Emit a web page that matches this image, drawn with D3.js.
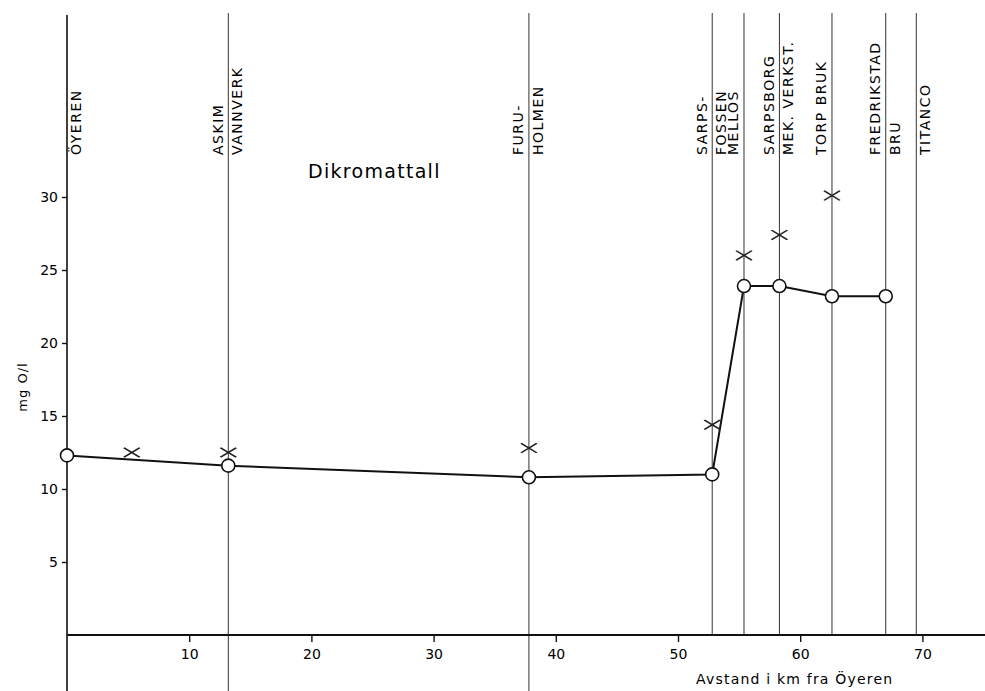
<!DOCTYPE html>
<html>
<head>
<meta charset="utf-8">
<script src="https://cdn.jsdelivr.net/npm/d3@7"></script>
<style>
  body { margin: 0; background: #fff; }
  text { font-family: "DejaVu Sans", sans-serif; fill: #000; }
</style>
</head>
<body>
<div id="chart-area"></div>
<script>
const W = 985, H = 691;

// sampling stations (km from Öyeren) and their label lines
const siteKm = [0, 13.2, 37.8, 52.8, 55.4, 58.3, 62.6, 67.0, 69.5];
const siteLabels = [
  ["ÖYEREN"],
  ["ASKIM", "VANNVERK"],
  ["FURU-", "HOLMEN"],
  ["SARPS-", "FOSSEN"],
  ["MELLÖS"],
  ["SARPSBORG", "MEK. VERKST."],
  ["TORP BRUK"],
  ["FREDRIKSTAD", "BRU"],
  ["TITANCO"]
];

// circle series (connected line)
const lineKm = [0, 13.2, 37.8, 52.8, 55.4, 58.3, 62.6, 67.0];
const lineVal = [12.3, 11.6, 10.8, 11.0, 23.9, 23.9, 23.2, 23.2];

// cross series
const crossKm = [5.3, 13.2, 37.8, 52.8, 55.4, 58.3, 62.6];
const crossVal = [12.5, 12.5, 12.8, 14.4, 26.0, 27.4, 30.1];

const xTicks = [10, 20, 30, 40, 50, 60, 70];
const yTicks = [5, 10, 15, 20, 25, 30];

const x = d3.scaleLinear().domain([0, 75]).range([67, 983.5]);
const y = d3.scaleLinear().domain([0, 30]).range([635, 197]);

const svg = d3.select("#chart-area")
  .append("svg")
  .attr("width", W)
  .attr("height", H);

// station lines
siteKm.forEach((km, i) => {
  if (i === 0) return; // first one is the y axis
  svg.append("line")
    .attr("x1", x(km)).attr("x2", x(km))
    .attr("y1", 13)
    .attr("y2", km < 40 ? H : y(0))
    .attr("stroke", "#333")
    .attr("stroke-width", 1);
});

// station labels, rotated
siteLabels.forEach((lines, i) => {
  const cx = x(siteKm[i]);
  let offs;
  if (lines.length === 2) offs = [-10.5, 9];
  else if (i === 0 || i === 8) offs = [9];
  else offs = [-10.5];
  lines.forEach((txt, j) => {
    const tx = cx + offs[j];
    svg.append("text")
      .attr("transform", `translate(${tx}, 155) rotate(-90)`)
      .attr("dominant-baseline", "central")
      .attr("font-size", "14px")
      .attr("letter-spacing", "1.5px")
      .text(txt);
  });
});

// y axis
svg.append("line")
  .attr("x1", x(0)).attr("x2", x(0))
  .attr("y1", 15).attr("y2", H)
  .attr("stroke", "#111").attr("stroke-width", 1.6);

const yAxis = svg.append("g")
  .attr("transform", `translate(${x(0)}, 0)`)
  .call(d3.axisLeft(y).tickValues(yTicks).tickSize(5).tickPadding(4));
yAxis.select(".domain").remove();
yAxis.selectAll("line").attr("stroke", "#111").attr("stroke-width", 1.4);
yAxis.selectAll("text")
  .attr("font-family", "DejaVu Sans")
  .attr("font-size", "14px")
  .attr("fill", "#000");

// x axis
svg.append("line")
  .attr("x1", x(0)).attr("x2", W)
  .attr("y1", y(0)).attr("y2", y(0))
  .attr("stroke", "#111").attr("stroke-width", 1.8);

const xAxis = svg.append("g")
  .attr("transform", `translate(0, ${y(0)})`)
  .call(d3.axisBottom(x).tickValues(xTicks).tickSize(7).tickPadding(7));
xAxis.select(".domain").remove();
xAxis.selectAll("line").attr("stroke", "#111").attr("stroke-width", 1.4);
xAxis.selectAll("text")
  .attr("font-family", "DejaVu Sans")
  .attr("font-size", "14px")
  .attr("fill", "#000");

// axis titles
svg.append("text")
  .attr("transform", `translate(22, 387) rotate(-90)`)
  .attr("text-anchor", "middle")
  .attr("dominant-baseline", "central")
  .attr("font-size", "13px")
  .attr("letter-spacing", "1px")
  .text("mg O/l");

svg.append("text")
  .attr("x", 696)
  .attr("y", 684)
  .attr("font-size", "14px")
  .attr("letter-spacing", "1.2px")
  .text("Avstand i km fra Öyeren");

svg.append("text")
  .attr("x", 308)
  .attr("y", 178)
  .attr("font-size", "19px")
  .attr("letter-spacing", "1.3px")
  .text("Dikromattall");

// connected series
const pts = lineKm.map((k, i) => ({ km: k, v: lineVal[i] }));
svg.append("path")
  .datum(pts)
  .attr("fill", "none")
  .attr("stroke", "#111")
  .attr("stroke-width", 2)
  .attr("d", d3.line().x(d => x(d.km)).y(d => y(d.v)));

svg.selectAll("circle.pt")
  .data(pts)
  .enter()
  .append("circle")
  .attr("class", "pt")
  .attr("cx", d => x(d.km))
  .attr("cy", d => y(d.v))
  .attr("r", 6.5)
  .attr("fill", "#fff")
  .attr("stroke", "#111")
  .attr("stroke-width", 1.6);

// crosses
const crosses = crossKm.map((k, i) => ({ km: k, v: crossVal[i] }));
svg.selectAll("path.cross")
  .data(crosses)
  .enter()
  .append("path")
  .attr("class", "cross")
  .attr("transform", d => `translate(${x(d.km)}, ${y(d.v)}) scale(1.4, 0.85)`)
  .attr("d", d3.symbol(d3.symbolX, 85)())
  .attr("fill", "none")
  .attr("stroke", "#222")
  .attr("stroke-width", 1.5);
</script>
</body>
</html>
